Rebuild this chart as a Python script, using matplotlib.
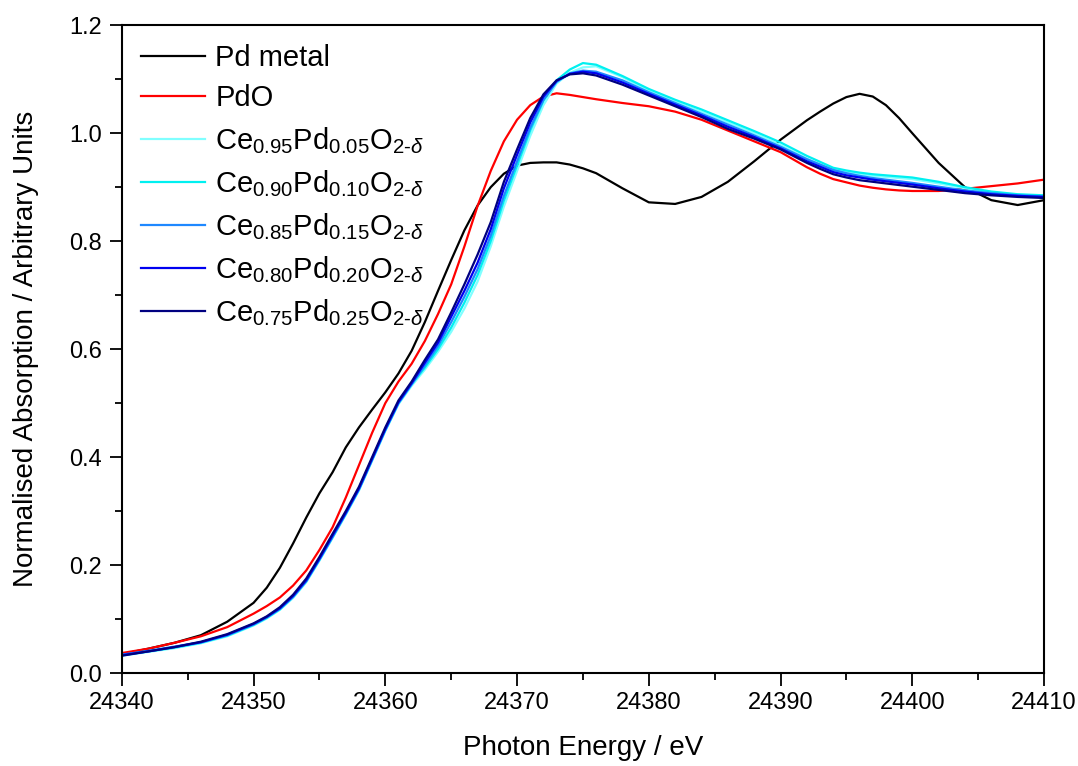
import matplotlib
matplotlib.use('Agg')
import matplotlib.pyplot as plt
from matplotlib.ticker import MultipleLocator, FormatStrFormatter

plt.rcParams['font.family'] = ['Liberation Sans', 'DejaVu Sans']
plt.rcParams['mathtext.fontset'] = 'custom'
plt.rcParams['mathtext.rm'] = 'Liberation Sans'
plt.rcParams['mathtext.it'] = 'Liberation Sans:italic'

# photon energy grid (eV)
energy = [24340, 24342, 24344, 24346, 24348, 24350,
          24351, 24352, 24353, 24354, 24355, 24356, 24357, 24358, 24359, 24360,
          24361, 24362, 24363, 24364, 24365, 24366, 24367, 24368, 24369, 24370,
          24371, 24372, 24373, 24374, 24375, 24376,
          24378, 24380, 24382, 24384, 24386, 24388, 24390, 24392,
          24393, 24394, 24395, 24396, 24397, 24398, 24399,
          24400, 24402, 24404, 24406, 24408, 24410]

pd_metal = [0.035, 0.045, 0.056, 0.070, 0.095, 0.130,
            0.158, 0.195, 0.240, 0.288, 0.333, 0.372, 0.418, 0.455, 0.488, 0.520,
            0.555, 0.597, 0.650, 0.708, 0.765, 0.820, 0.866, 0.900, 0.925, 0.940,
            0.945, 0.946, 0.946, 0.942, 0.935, 0.926,
            0.898, 0.872, 0.869, 0.882, 0.910, 0.948, 0.988, 1.024,
            1.040, 1.055, 1.067, 1.073, 1.068, 1.052, 1.028,
            1.000, 0.945, 0.900, 0.876, 0.867, 0.876]

pdo = [0.037, 0.045, 0.056, 0.068, 0.085, 0.110,
       0.124, 0.140, 0.162, 0.190, 0.228, 0.270, 0.325, 0.385, 0.445, 0.500,
       0.540, 0.573, 0.615, 0.665, 0.720, 0.790, 0.865, 0.930, 0.985, 1.025,
       1.052, 1.068, 1.074, 1.071, 1.067, 1.063,
       1.056, 1.050, 1.040, 1.025, 1.005, 0.985, 0.965, 0.937,
       0.925, 0.915, 0.909, 0.903, 0.899, 0.896, 0.894,
       0.893, 0.893, 0.897, 0.902, 0.907, 0.914]

ce95 = [0.032, 0.039, 0.046, 0.055, 0.068, 0.088,
        0.101, 0.117, 0.139, 0.168, 0.208, 0.250, 0.293, 0.338, 0.393, 0.448,
        0.498, 0.532, 0.562, 0.595, 0.632, 0.675, 0.725, 0.790, 0.864, 0.930,
        0.995, 1.052, 1.092, 1.112, 1.122, 1.124,
        1.104, 1.078, 1.058, 1.040, 1.020, 1.000, 0.978, 0.953,
        0.942, 0.932, 0.928, 0.924, 0.921, 0.919, 0.917,
        0.915, 0.907, 0.898, 0.890, 0.886, 0.884]

ce90 = [0.033, 0.040, 0.047, 0.056, 0.069, 0.089,
        0.102, 0.118, 0.141, 0.170, 0.210, 0.252, 0.295, 0.340, 0.395, 0.450,
        0.500, 0.535, 0.566, 0.600, 0.640, 0.686, 0.737, 0.800, 0.875, 0.940,
        1.005, 1.060, 1.098, 1.118, 1.130, 1.127,
        1.106, 1.082, 1.062, 1.044, 1.024, 1.004, 0.983, 0.958,
        0.947, 0.936, 0.931, 0.927, 0.924, 0.922, 0.920,
        0.918, 0.910, 0.900, 0.892, 0.887, 0.885]

ce85 = [0.034, 0.041, 0.049, 0.057, 0.070, 0.090,
        0.103, 0.119, 0.141, 0.170, 0.210, 0.252, 0.295, 0.340, 0.395, 0.450,
        0.500, 0.535, 0.570, 0.606, 0.650, 0.697, 0.748, 0.810, 0.884, 0.948,
        1.010, 1.062, 1.095, 1.111, 1.116, 1.114,
        1.098, 1.076, 1.056, 1.036, 1.016, 0.996, 0.975, 0.952,
        0.942, 0.932, 0.926, 0.921, 0.917, 0.914, 0.911,
        0.908, 0.901, 0.894, 0.889, 0.885, 0.883]

ce80 = [0.033, 0.040, 0.048, 0.057, 0.071, 0.091,
        0.104, 0.120, 0.143, 0.172, 0.212, 0.255, 0.297, 0.342, 0.397, 0.452,
        0.502, 0.537, 0.575, 0.612, 0.660, 0.708, 0.760, 0.822, 0.898, 0.960,
        1.020, 1.068, 1.097, 1.110, 1.114, 1.111,
        1.094, 1.073, 1.053, 1.033, 1.012, 0.993, 0.972, 0.948,
        0.938, 0.928, 0.922, 0.918, 0.914, 0.911, 0.908,
        0.905, 0.898, 0.892, 0.887, 0.884, 0.882]

ce75 = [0.032, 0.040, 0.048, 0.058, 0.072, 0.092,
        0.105, 0.122, 0.145, 0.175, 0.215, 0.258, 0.300, 0.345, 0.400, 0.455,
        0.505, 0.540, 0.580, 0.618, 0.668, 0.720, 0.775, 0.835, 0.910, 0.970,
        1.028, 1.072, 1.098, 1.109, 1.111, 1.107,
        1.090, 1.070, 1.050, 1.030, 1.008, 0.990, 0.970, 0.945,
        0.934, 0.924, 0.918, 0.913, 0.910, 0.907, 0.904,
        0.901, 0.895, 0.889, 0.885, 0.882, 0.880]

labels = ['Pd metal', 'PdO',
          r'Ce$_{0.95}$Pd$_{0.05}$O$_{2\text{-}\delta}$',
          r'Ce$_{0.90}$Pd$_{0.10}$O$_{2\text{-}\delta}$',
          r'Ce$_{0.85}$Pd$_{0.15}$O$_{2\text{-}\delta}$',
          r'Ce$_{0.80}$Pd$_{0.20}$O$_{2\text{-}\delta}$',
          r'Ce$_{0.75}$Pd$_{0.25}$O$_{2\text{-}\delta}$']
colors = ['black', '#ff0000', '#80ffff', '#00f0f0', '#1e88ff', '#0000f0', '#000080']
series = [pd_metal, pdo, ce95, ce90, ce85, ce80, ce75]

fig = plt.figure(figsize=(10.78, 7.66), dpi=100)
ax = fig.add_axes([0.113, 0.1214, 0.8555, 0.8456])

for y, c, lab in zip(series, colors, labels):
    ax.plot(energy, y, color=c, lw=1.6, label=lab)

ax.set_xlim(24340, 24410)
ax.set_ylim(0, 1.2)
ax.xaxis.set_major_locator(MultipleLocator(10))
ax.xaxis.set_minor_locator(MultipleLocator(5))
ax.yaxis.set_major_locator(MultipleLocator(0.2))
ax.yaxis.set_minor_locator(MultipleLocator(0.1))
ax.yaxis.set_major_formatter(FormatStrFormatter('%.1f'))
ax.xaxis.set_major_formatter(FormatStrFormatter('%d'))
ax.tick_params(which='major', direction='out', length=9, width=1.3, labelsize=17, pad=5)
ax.tick_params(which='minor', direction='out', length=5, width=1.3)
for sp in ax.spines.values():
    sp.set_linewidth(1.5)

ax.set_xlabel('Photon Energy / eV', fontsize=20, labelpad=15)
ax.set_ylabel('Normalised Absorption / Arbitrary Units', fontsize=20, labelpad=22)

ax.legend(loc='upper left', frameon=False, fontsize=21, handlelength=2.2,
          handletextpad=0.35, labelspacing=0.42, borderaxespad=0.25,
          bbox_to_anchor=(0.0, 1.0))

fig.savefig('out.png', dpi=100)
